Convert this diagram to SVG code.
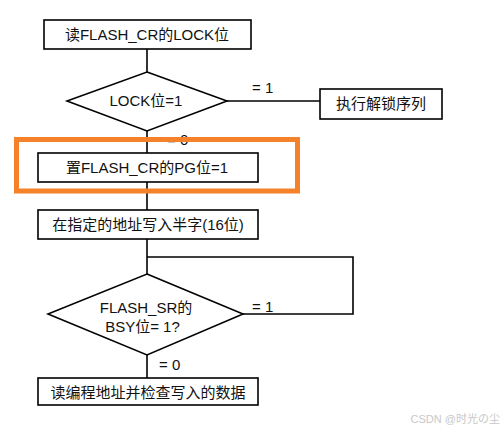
<svg xmlns="http://www.w3.org/2000/svg" width="504" height="430" viewBox="0 0 504 430">
<style>
.box{fill:#fff;stroke:#000;stroke-width:1.6}
.ln{fill:none;stroke:#000;stroke-width:1.6}
text{font-family:"Liberation Sans","Noto Sans CJK SC",sans-serif;font-size:15px;fill:#111}
.c{text-anchor:middle}
.wm{font-size:11px;fill:#c8c8c8}
</style>
<rect width="504" height="430" fill="#fff"/>
<g id="connectors">
<path class="ln" d="M147 49V72"/>
<path class="ln" d="M227 101H320"/>
<path class="ln" d="M147 131V153"/>
<path class="ln" d="M147 182V210"/>
<path class="ln" d="M147 239V274"/>
<path class="ln" d="M147 257H353V314H243"/>
<path class="ln" d="M147 355V378"/>
<text x="252" y="93">= 1</text>
<text x="167" y="145">= 0</text>
<text x="252" y="312">= 1</text>
<text x="159" y="370">= 0</text>
</g>
<g id="n1"><rect class="box" x="44" y="20" width="207" height="29"/><text class="c" x="147" y="39.5">读FLASH_CR的LOCK位</text></g>
<g id="d1"><polygon class="box" points="147,72 227,101 147,131 67,101"/><text class="c" x="146" y="105.5">LOCK位=1</text></g>
<g id="n2"><rect class="box" x="320" y="89" width="122" height="30"/><text class="c" x="381" y="109">执行解锁序列</text></g>
<g id="n3"><rect class="box" x="38" y="153" width="220" height="29"/><text class="c" x="147" y="172.5">置FLASH_CR的PG位=1</text></g>
<g id="n4"><rect class="box" x="38" y="210" width="220" height="29"/><text class="c" x="148" y="230">在指定的地址写入半字(16位)</text></g>
<g id="d2"><polygon class="box" points="147,274 243,314 147,355 48,314"/><text class="c" x="146" y="312.5">FLASH_SR的</text><text class="c" x="142.5" y="332">BSY位= 1?</text></g>
<g id="n5"><rect class="box" x="38" y="378" width="220" height="27"/><text class="c" x="148" y="397.5">读编程地址并检查写入的数据</text></g>
<g id="highlight"><rect x="16.5" y="139.5" width="281" height="51.5" fill="none" stroke="#f5822a" stroke-width="5"/></g>
<text class="wm" x="500" y="423" text-anchor="end">CSDN @时光の尘</text>
</svg>
